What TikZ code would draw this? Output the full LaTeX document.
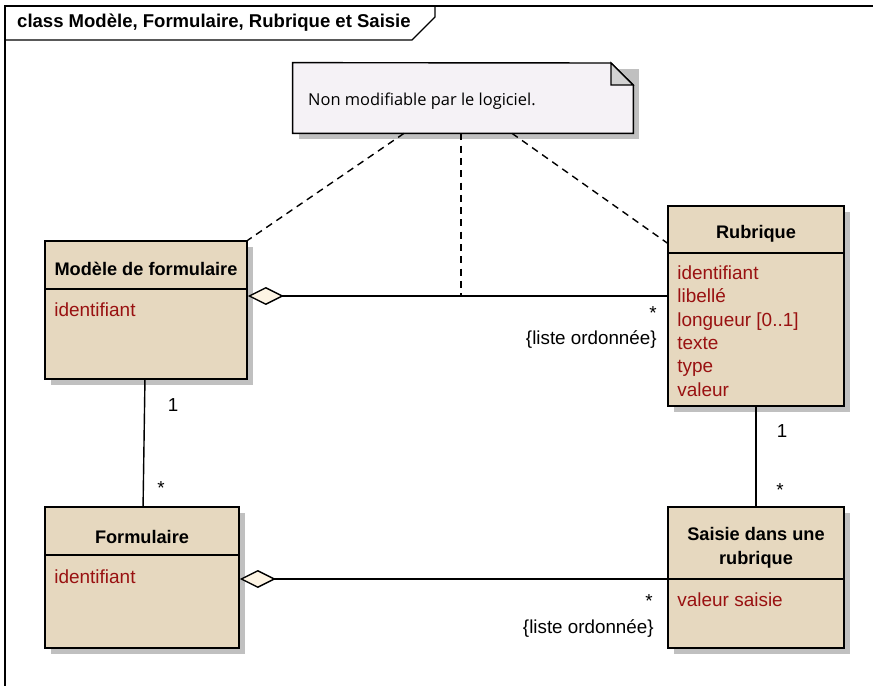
\documentclass[tikz,border=0pt]{standalone}
\usepackage{fontspec}
\setmainfont{Liberation Sans}
\newfontfamily\notefont{Open Sans}
\usetikzlibrary{arrows.meta,fit,shadows}
\definecolor{classfill}{RGB}{230,216,191}
\definecolor{attrcol}{RGB}{153,17,17}
\definecolor{notefill}{RGB}{245,242,246}
\definecolor{diamfill}{RGB}{253,244,228}
\definecolor{shadowcol}{RGB}{192,192,192}
\begin{document}
\begin{tikzpicture}[x=.02cm,y=-.02cm,line join=miter,
 classbox/.style={draw,line width=.9pt,fill=classfill,inner sep=0pt,drop shadow={shadow xshift=.12cm,shadow yshift=-.12cm,fill=shadowcol,opacity=1}},
 cname/.style={font=\fontsize{10.35}{13.5}\selectfont\bfseries,align=center},
 attr/.style={anchor=west,text=attrcol,font=\fontsize{10.8}{12}\selectfont,inner sep=0pt,text height=1.6ex,text depth=.45ex,yshift=-1.1pt},
 mult/.style={font=\fontsize{10.7}{12}\selectfont,inner sep=0pt},
 lien/.style={line width=.8pt},
 aggr/.style={lien,-{Diamond[length=.72cm,width=.36cm,fill=diamfill,line width=.8pt]}},
 notelien/.style={lien,dash pattern=on 4pt off 3pt}]
\useasboundingbox (0,0) rectangle (873,686);
\draw[lien] (5,686) -- (5,6) -- (873,6);
\draw[lien] (5,40) -- (412,40) -- (435,17) -- (435,6);
\node[cname,font=\fontsize{10.55}{13}\selectfont\bfseries,anchor=west] (titre) at (11,23) {class Modèle, Formulaire, Rubrique et Saisie};

\node[classbox,fit={(45,241) (247,379)}] (modele) {};
\node[cname] (modele-t) at (modele.center |- 0,269) {Modèle de formulaire};
\draw[lien] (modele.west |- 0,289) -- (modele.east |- 0,289);
\node[attr] (modele-a) at (54,309) {identifiant};

\node[classbox,fit={(668,206) (844,406)}] (rubrique) {};
\node[cname] (rubrique-t) at (rubrique.center |- 0,234) {Rubrique};
\draw[lien] (rubrique.west |- 0,253) -- (rubrique.east |- 0,253);
\foreach \t [count=\i from 0] in {identifiant,libellé,longueur [0..1],texte,type,valeur}
  \node[attr] (rubrique-a\i) at (677,272+23.4*\i) {\t};

\node[classbox,fit={(45,507) (239,648)}] (formulaire) {};
\node[cname] (formulaire-t) at (formulaire.center |- 0,537) {Formulaire};
\draw[lien] (formulaire.west |- 0,555) -- (formulaire.east |- 0,555);
\node[attr] (formulaire-a) at (54,576) {identifiant};

\node[classbox,fit={(668,507) (844,648)}] (saisie) {};
\node[cname] (saisie-t) at (saisie.center |- 0,548) {Saisie dans une\\rubrique};
\draw[lien] (saisie.west |- 0,579) -- (saisie.east |- 0,579);
\node[attr] (saisie-a) at (677,599) {valeur saisie};

\fill[shadowcol] (299,69) rectangle (639,139);
\node[fit={(293,63) (633,133)},inner sep=0pt] (note) {};
\filldraw[lien,fill=notefill] (note.south west) -- (note.north west) -- (611,63) -- (note.north east |- 0,85) -- (note.south east) -- cycle;
\filldraw[lien,fill=gray!35] (611,63) -- (611,85) -- (633,85) -- cycle;
\node[anchor=west,font=\notefont\fontsize{9.35}{12}\selectfont] (note-t) at (302,101) {Non modifiable par le logiciel.};

\coordinate (ancre) at (461,296);
\draw[aggr] (rubrique.west |- ancre) -- (modele.east |- ancre);
\draw[aggr] (saisie.west |- 0,579) -- (formulaire.east |- 0,579);
\draw[lien] (modele) -- (formulaire);
\draw[lien] (rubrique) -- (saisie);
\draw[notelien] (404,0 |- note.south) -- (modele.north east);
\draw[notelien] (ancre |- note.south) -- (ancre);
\draw[notelien] (512,0 |- note.south) -- (rubrique.west |- 0,243);

\node[mult] (m1) at (173,405) {1};
\node[mult] (m2) at (161,488) {*};
\node[mult] (m3) at (782,431) {1};
\node[mult] (m4) at (780,490) {*};
\node[mult] (m5) at (653,313) {*};
\node[mult,anchor=east] (m6) at (657,340) {\{liste ordonnée\}};
\node[mult] (m7) at (649,601) {*};
\node[mult,anchor=east] (m8) at (654,629) {\{liste ordonnée\}};
\end{tikzpicture}
\end{document}
